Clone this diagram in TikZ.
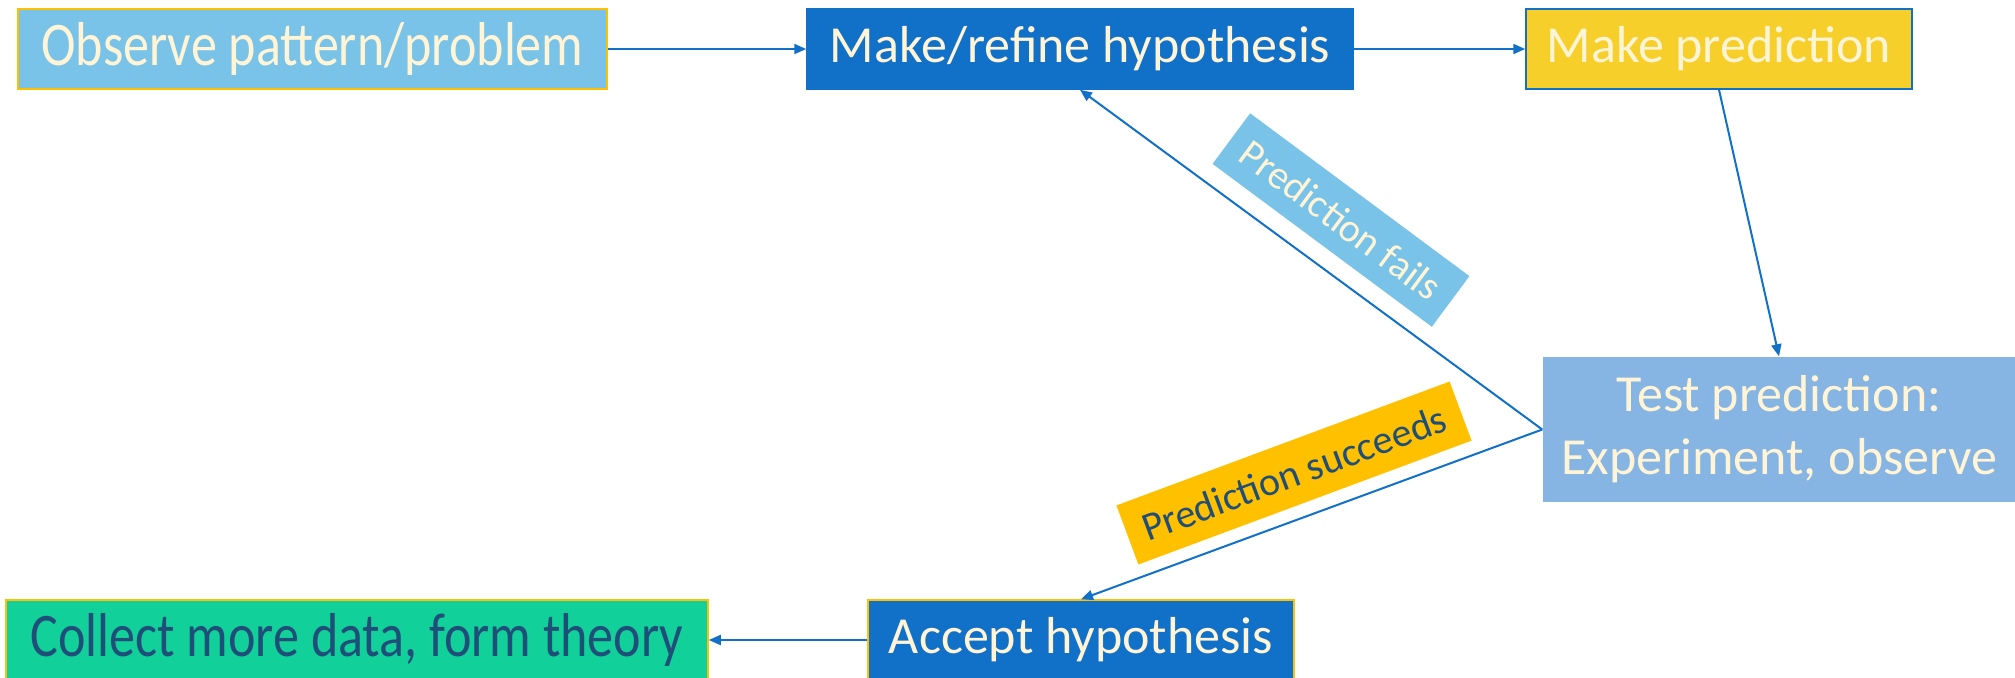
\documentclass[tikz,border=0pt]{standalone}
\usepackage{fontspec}
\setmainfont{Carlito}
\newfontfamily\narrowfont[FakeStretch=0.84]{Carlito}
\usetikzlibrary{arrows.meta}

\definecolor{boxblue}{HTML}{1170C8}
\definecolor{skyblue}{HTML}{79C2E8}
\definecolor{testblue}{HTML}{86B4E3}
\definecolor{gold}{HTML}{FFC000}
\definecolor{yellowbox}{HTML}{F6CF2A}
\definecolor{tealbox}{HTML}{12D09A}
\definecolor{cream}{HTML}{FFF5D6}
\definecolor{navy}{HTML}{1F4E79}

\tikzset{
	stage/.style={rectangle, inner sep=0pt, line width=0.75pt, text=cream, minimum height=40pt,
		font=\fontsize{26}{31.5}\selectfont},
	bigstage/.style={stage, font=\narrowfont\fontsize{31}{37}\selectfont},
	outcome/.style={rectangle, inner xsep=8.5pt, inner ysep=0pt, minimum height=31.5pt,
		font=\fontsize{20}{24}\selectfont},
	flow/.style={draw=boxblue, line width=1pt, -{Triangle[length=6pt,width=5pt]}}
}

\begin{document}
\begin{tikzpicture}[x=0.5pt, y=-0.5pt]
		\useasboundingbox (0,0) rectangle (2015,677);
		
		% Fila de arriba
		\node[bigstage, fill=skyblue, draw=gold, minimum width=294.5pt] (observe) at (312.5,49) {Observe pattern/problem};
		\node[stage, fill=boxblue, draw=boxblue, minimum width=273pt] (hypothesis) at (1080,49) {Make/refine hypothesis};
		\node[stage, fill=yellowbox, draw=boxblue, minimum width=193pt] (prediction) at (1719,49) {Make prediction};
		
		% Prueba
		\node[stage, fill=testblue, minimum width=236pt, minimum height=72.5pt, align=center] (test) at (1779,429.5)
			{Test prediction:\\Experiment, observe};
		
		% Fila de abajo
		\node[stage, fill=boxblue, draw=gold, minimum width=213pt] (accept) at (1081,640) {Accept hypothesis};
		\node[bigstage, fill=tealbox, draw=gold, text=navy, minimum width=351pt] (collect) at (357,640) {Collect more data, form theory};
		
		% Flechas
		\draw[flow] (observe.east) -- (hypothesis.west);
		\draw[flow] (hypothesis.east) -- (prediction.west);
		\draw[flow] (prediction.south) -- (test.north);
		\draw[flow] (test.west) -- (hypothesis.south);
		\draw[flow] (test.west) -- (accept.north);
		\draw[flow] (accept.west) -- (collect.east);
		
		% Resultados
		\node[outcome, fill=skyblue, text=cream, rotate=-36.6] (fails) at (1341,220) {Prediction fails};
		\node[outcome, fill=gold, text=navy, rotate=20.4] (succeeds) at (1294,473) {Prediction succeeds};
	\end{tikzpicture}
\end{document}
